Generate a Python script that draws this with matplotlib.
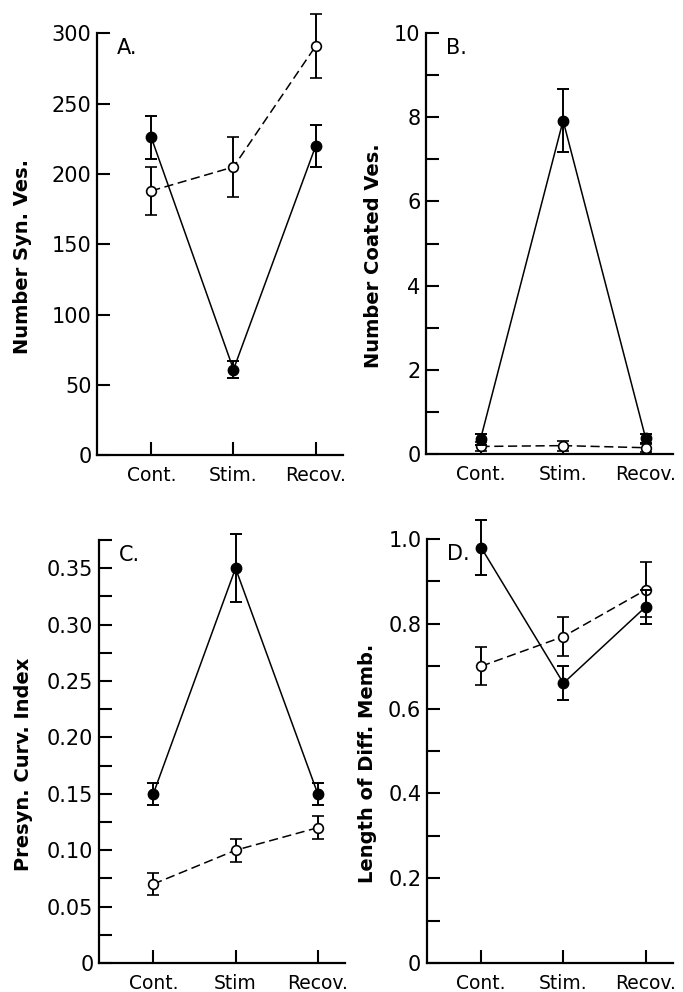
import numpy as np
import matplotlib
matplotlib.use("Agg")
import matplotlib.pyplot as plt
from matplotlib.ticker import MultipleLocator, FuncFormatter

# ---------------- DATA ----------------
categories = ["Cont.", "Stim.", "Recov."]
categories_c = ["Cont.", "Stim", "Recov."]

# A. number of synaptic vesicles
syn_filled = [226, 61, 220]
syn_filled_err = [15, 6, 15]
syn_open = [188, 205, 291]
syn_open_err = [17, 21, 23]

# B. number of coated vesicles
coat_filled = [0.35, 7.92, 0.37]
coat_filled_err = [0.13, 0.75, 0.11]
coat_open = [0.18, 0.2, 0.15]
coat_open_err = [0.1, 0.12, 0.1]

# C. presynaptic curvature index
curv_filled = [0.15, 0.35, 0.15]
curv_filled_err = [0.01, 0.03, 0.01]
curv_open = [0.07, 0.10, 0.12]
curv_open_err = [0.01, 0.01, 0.01]

# D. length of differentiated membrane
memb_filled = [0.98, 0.66, 0.84]
memb_filled_err = [0.065, 0.04, 0.04]
memb_open = [0.70, 0.77, 0.88]
memb_open_err = [0.045, 0.045, 0.065]

# ---------------- FIGURE ----------------
fig = plt.figure(figsize=(6.83, 9.92), dpi=100)
plt.rcParams["font.family"] = "DejaVu Sans"

x = np.arange(1, 4)

panels = [
    # rect, letter, ylabel, ymax, major, minor, fmt, cats, filled, ferr, open, oerr, label x
    ([0.142, 0.541, 0.360, 0.4254], "A.", "Number Syn. Ves.", 300, 50, 50,
     lambda v, p: f"{v:.0f}", categories, syn_filled, syn_filled_err, syn_open, syn_open_err, -0.265),
    ([0.6237, 0.5423, 0.3616, 0.4244], "B.", "Number Coated Ves.", 10, 2, 1,
     lambda v, p: f"{v:.0f}", categories, coat_filled, coat_filled_err, coat_open, coat_open_err, -0.175),
    ([0.145, 0.0292, 0.360, 0.4264], "C.", "Presyn. Curv. Index", 0.375, 0.05, 0.025,
     lambda v, p: "0" if v == 0 else f"{v:.2f}", categories_c, curv_filled, curv_filled_err, curv_open, curv_open_err, -0.268),
    ([0.625, 0.0292, 0.360, 0.4274], "D.", "Length of Diff. Memb.", 1.0, 0.2, 0.1,
     lambda v, p: "0" if v == 0 else f"{v:.1f}", categories, memb_filled, memb_filled_err, memb_open, memb_open_err, -0.203),
]

for rect, letter, ylabel, ymax, major, minor, fmt, cats, fv, fe, ov, oe, lx in panels:
    ax = fig.add_axes(rect)

    # open circles, dashed line
    ax.errorbar(x, ov, yerr=oe, fmt="o", linestyle=(0, (6, 3)), color="black",
                mfc="white", mec="black", ms=7, mew=1.2, lw=1.1,
                elinewidth=1.4, capsize=4.5, capthick=1.4, clip_on=False, zorder=3)
    # filled circles, solid line
    ax.errorbar(x, fv, yerr=fe, fmt="o", linestyle="-", color="black",
                mfc="black", mec="black", ms=7.5, lw=1.1,
                elinewidth=1.4, capsize=4.5, capthick=1.4, clip_on=False, zorder=4)

    ax.set_xlim(0.34, 3.33)
    ax.set_ylim(0, ymax)
    ax.spines["top"].set_visible(False)
    ax.spines["right"].set_visible(False)
    ax.spines["left"].set_linewidth(1.6)
    ax.spines["bottom"].set_linewidth(1.6)

    ax.yaxis.set_major_locator(MultipleLocator(major))
    ax.yaxis.set_minor_locator(MultipleLocator(minor))
    ax.yaxis.set_major_formatter(FuncFormatter(fmt))
    ax.set_xticks(x)
    ax.set_xticklabels(cats)

    ax.tick_params(axis="y", which="both", direction="in", length=9.5, width=1.5,
                   pad=4, labelsize=15)
    ax.tick_params(axis="x", which="both", direction="in", length=9.5, width=1.5,
                   pad=8, labelsize=13.5)

    ax.set_ylabel(ylabel, fontsize=14, fontweight="bold")
    ax.yaxis.set_label_coords(lx, 0.47)

    ax.text(0.08, 0.965, letter, transform=ax.transAxes, fontsize=15,
            ha="left", va="center")

fig.savefig("out.png", dpi=100)
